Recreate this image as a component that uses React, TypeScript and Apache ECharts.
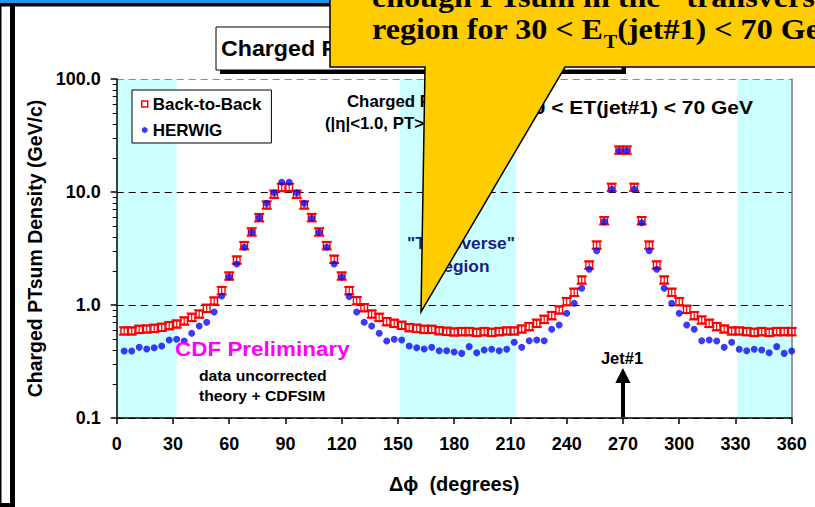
import React, { useEffect, useRef } from "react";
import * as echarts from "echarts";

// Δφ bin centres (degrees) relative to the leading jet direction
const DPHI = [
  4, 8, 12, 16, 20, 24, 28, 32, 36, 40, 44, 48, 52, 56, 60, 64, 68, 72, 76, 80,
  84, 88, 92, 96, 100, 104, 108, 112, 116, 120, 124, 128, 132, 136, 140, 144, 148, 152, 156, 160,
  164, 168, 172, 176, 180, 184, 188, 192, 196, 200, 204, 208, 212, 216, 220, 224, 228, 232, 236, 240,
  244, 248, 252, 256, 260, 264, 268, 272, 276, 280, 284, 288, 292, 296, 300, 304, 308, 312, 316, 320,
  324, 328, 332, 336, 340, 344, 348, 352, 356, 360,
];

// Charged PTsum density (GeV/c), back-to-back data
const BACK_TO_BACK = [
  0.589, 0.589, 0.609, 0.613, 0.622, 0.635, 0.656, 0.679, 0.722, 0.778,
  0.832, 0.935, 1.085, 1.339, 1.805, 2.5, 3.35, 4.43, 5.93, 7.67,
  9.55, 10.96, 10.96, 9.55, 7.67, 5.93, 4.43, 3.35, 2.54, 1.805,
  1.339, 1.09, 0.946, 0.832, 0.778, 0.712, 0.689, 0.661, 0.63, 0.622,
  0.609, 0.609, 0.592, 0.585, 0.577, 0.581, 0.581, 0.573, 0.581, 0.573,
  0.581, 0.589, 0.589, 0.613, 0.643, 0.689, 0.747, 0.804, 0.903, 1.07,
  1.296, 1.664, 2.26, 3.39, 5.57, 10.99, 23.5, 23.5, 10.99, 5.57,
  3.39, 2.26, 1.664, 1.296, 1.07, 0.916, 0.804, 0.737, 0.689, 0.643,
  0.613, 0.589, 0.589, 0.581, 0.573, 0.581, 0.573, 0.581, 0.581, 0.581,
];

// Charged PTsum density (GeV/c), HERWIG prediction
const HERWIG = [
  0.392, 0.392, 0.422, 0.408, 0.419, 0.434, 0.49, 0.497, 0.48, 0.562,
  0.652, 0.703, 0.867, 1.2, 1.77, 2.31, 3.24, 4.4, 5.93, 7.94,
  9.86, 12.2, 12.2, 9.86, 7.94, 5.86, 4.4, 3.24, 2.31, 1.77,
  1.19, 0.867, 0.703, 0.652, 0.562, 0.48, 0.497, 0.49, 0.434, 0.419,
  0.408, 0.422, 0.394, 0.394, 0.384, 0.373, 0.428, 0.378, 0.4, 0.406,
  0.394, 0.406, 0.468, 0.422, 0.483, 0.49, 0.483, 0.609, 0.665, 0.845,
  1.035, 1.405, 2.07, 3.02, 5.47, 10.57, 23.2, 23.2, 10.57, 5.34,
  3.02, 2.07, 1.405, 1.035, 0.845, 0.665, 0.609, 0.483, 0.49, 0.48,
  0.422, 0.468, 0.406, 0.394, 0.406, 0.4, 0.378, 0.428, 0.373, 0.392,
];

// relative statistical uncertainty on the back-to-back points
const BTB_REL_ERR = 0.08;

// "transverse" regions shaded in cyan (degrees)
const TRANSVERSE_BANDS = [
  [0, 32],
  [151, 213],
  [331, 360],
];

const SANS = "'Liberation Sans', Arial, 'DejaVu Sans', sans-serif";
const SERIF = "'Liberation Serif', 'Times New Roman', serif";
const RED = "#ff0000";
const BLUE = "#0a0af5";
const CYAN = "#ccffff";

const sansText = (
  text: string,
  x: number,
  y: number,
  size: number,
  opts: { align?: string; fill?: string; scaleX?: number; z?: number } = {}
) => ({
  type: "text",
  x,
  y,
  scaleX: opts.scaleX ?? 1,
  z: opts.z ?? 20,
  style: {
    text,
    fontFamily: SANS,
    fontWeight: "bold",
    fontSize: size,
    fill: opts.fill ?? "#000",
    align: opts.align ?? "left",
    verticalAlign: "middle",
  },
});

export default function App() {
  const ref = useRef<HTMLDivElement>(null);

  useEffect(() => {
    if (!ref.current) return;
    const chart = echarts.init(ref.current, null, { renderer: "svg" });

    const btbData = DPHI.map((x, i) => [x, BACK_TO_BACK[i]]);
    const herwigData = DPHI.map((x, i) => [x, HERWIG[i]]);

    const option: any = {
      animation: false,
      backgroundColor: "#fff",
      grid: { left: 116.7, right: 23.3, top: 79, bottom: 89, containLabel: false },
      legend: {
        left: 132,
        top: 90,
        orient: "vertical",
        padding: [4, 10, 3, 9],
        itemGap: 6,
        itemWidth: 6,
        itemHeight: 6,
        backgroundColor: "#fff",
        borderColor: "#000",
        borderWidth: 1,
        borderRadius: 0,
        selectedMode: false,
        textStyle: { fontFamily: SANS, fontWeight: "bold", fontSize: 17, color: "#000", lineHeight: 20 },
        data: [
          { name: "Back-to-Back", icon: "rect", itemStyle: { color: "#fff", borderColor: RED, borderWidth: 1.5 } },
          { name: "HERWIG", icon: "circle", itemStyle: { color: BLUE } },
        ],
      },
      xAxis: {
        type: "value",
        min: 0,
        max: 360,
        interval: 30,
        axisLine: { show: true, onZero: false, lineStyle: { color: "#000", width: 1.5 } },
        axisTick: { show: true, length: 6, lineStyle: { color: "#000", width: 1.5 } },
        axisLabel: { fontFamily: SANS, fontWeight: "bold", fontSize: 18, color: "#000", margin: 17, lineHeight: 18 },
        splitLine: { show: false },
        name: "Δϕ  (degrees)",
        nameLocation: "middle",
        nameGap: 55,
        nameTextStyle: { fontFamily: SANS, fontWeight: "bold", fontSize: 20, color: "#000", lineHeight: 22 },
      },
      yAxis: [
        {
          type: "log",
          logBase: 10,
          min: 0.1,
          max: 100,
          axisLine: { show: true, onZero: false, lineStyle: { color: "#000", width: 1.5 } },
          axisTick: { show: true, length: 6, lineStyle: { color: "#000", width: 1.5 } },
          minorTick: { show: true, splitNumber: 9, length: 4, lineStyle: { color: "#000", width: 1 } },
          axisLabel: {
            fontFamily: SANS,
            fontWeight: "bold",
            fontSize: 18,
            color: "#000",
            margin: 16,
            formatter: (v: number) => Number(v).toFixed(1),
          },
          splitLine: {
            show: true,
            lineStyle: { color: ["#000", "#000", "#000", "#8a8a8a"], type: [7, 5], width: 1 },
          },
          name: "Charged PTsum Density (GeV/c)",
          nameLocation: "middle",
          nameGap: 70,
          nameTextStyle: { fontFamily: SANS, fontWeight: "bold", fontSize: 19.5, color: "#000", lineHeight: 20 },
        },
        {
          type: "log",
          logBase: 10,
          min: 0.1,
          max: 100,
          position: "right",
          axisLine: { show: true, onZero: false, lineStyle: { color: "#7a7a7a", width: 1.5 } },
          axisTick: { show: false },
          axisLabel: { show: false },
          splitLine: { show: false },
        },
      ],
      series: [
        {
          name: "Back-to-Back",
          type: "custom",
          coordinateSystem: "cartesian2d",
          data: btbData,
          encode: { x: 0, y: 1 },
          z: 3,
          renderItem: (_params: any, api: any) => {
            const x = api.value(0);
            const y = api.value(1);
            const c = api.coord([x, y]);
            const hi = api.coord([x, y * (1 + BTB_REL_ERR)]);
            const lo = api.coord([x, y / (1 + BTB_REL_ERR)]);
            const cap = 5;
            const h = 3.3;
            return {
              type: "group",
              children: [
                { type: "line", shape: { x1: c[0], y1: hi[1], x2: c[0], y2: lo[1] }, style: { stroke: RED, lineWidth: 1.2 } },
                { type: "line", shape: { x1: c[0] - cap, y1: hi[1], x2: c[0] + cap, y2: hi[1] }, style: { stroke: RED, lineWidth: 2 } },
                { type: "line", shape: { x1: c[0] - cap, y1: lo[1], x2: c[0] + cap, y2: lo[1] }, style: { stroke: RED, lineWidth: 2 } },
                {
                  type: "rect",
                  shape: { x: c[0] - h, y: c[1] - h, width: 2 * h, height: 2 * h },
                  style: { fill: "none", stroke: RED, lineWidth: 1.4 },
                },
              ],
            };
          },
        },
        {
          name: "HERWIG",
          type: "scatter",
          data: herwigData,
          symbol: "circle",
          symbolSize: 7,
          itemStyle: { color: BLUE },
          z: 4,
          markArea: {
            silent: true,
            z: -1,
            itemStyle: { color: CYAN },
            data: TRANSVERSE_BANDS.map(([a, b]) => [{ xAxis: a }, { xAxis: b }]),
          },
        },
      ],
      graphic: [
        // slide frame
        { type: "rect", z: 10, shape: { x: 0, y: 0, width: 815, height: 3 }, style: { fill: "#1f95ee" } },
        { type: "rect", z: 10, shape: { x: 0, y: 3, width: 815, height: 3.5 }, style: { fill: "#000" } },
        { type: "rect", z: 10, shape: { x: 0, y: 6, width: 1.5, height: 501 }, style: { fill: "#000" } },
        { type: "rect", z: 10, shape: { x: 10, y: 6, width: 5, height: 499 }, style: { fill: "#000" } },
        { type: "rect", z: 10, shape: { x: 0, y: 503, width: 15, height: 4 }, style: { fill: "#000" } },

        // plot title box
        { type: "rect", z: 30, shape: { x: 220, y: 31, width: 406, height: 43 }, style: { fill: "#000" } },
        { type: "rect", z: 31, shape: { x: 216, y: 27, width: 406, height: 43 }, style: { fill: "#fff", stroke: "#000", lineWidth: 1 } },
        sansText("Charged PTsum Density", 221, 48.5, 21.5, { scaleX: 1.08, z: 32 }),

        // selection text inside the plot
        sansText("Charged PTsum Density", 347, 101, 16, { scaleX: 1.05 }),
        sansText("(|η|<1.0, PT>0.5 GeV)", 325, 123, 16, { scaleX: 1.05 }),
        sansText("30 < ET(jet#1) < 70 GeV", 753, 108, 17.5, { align: "right", scaleX: 1.2 }),

        // region labels and annotations
        sansText('"Transverse"', 461, 244, 16.5, { align: "center", fill: "#1b1b80", scaleX: 1.05 }),
        sansText("region", 463, 266.5, 16.5, { align: "center", fill: "#1b1b80", scaleX: 1.05 }),
        sansText("CDF Preliminary", 175, 349, 21, { fill: "#ff00ff", scaleX: 1.07 }),
        sansText("data uncorrected", 199, 376, 15, { scaleX: 1.05 }),
        sansText("theory + CDFSIM", 199, 396, 15, { scaleX: 1.05 }),
        sansText("Jet#1", 622, 358, 16, { align: "center", scaleX: 1.03 }),
        { type: "polygon", z: 20, shape: { points: [[622.9, 368], [615.3, 383], [630.5, 383]] }, style: { fill: "#000" } },
        { type: "rect", z: 20, shape: { x: 621, y: 382, width: 4, height: 35 }, style: { fill: "#000" } },

        // callout
        {
          type: "polygon",
          z: 60,
          shape: {
            points: [
              [330, -10],
              [830, -10],
              [830, 67],
              [565, 67],
              [421, 312],
              [425, 67],
              [330, 67],
            ],
          },
          style: { fill: "#ffcc00", stroke: "#000", lineWidth: 1.5 },
        },
        {
          type: "text",
          z: 61,
          x: 372,
          y: -3,
          scaleX: 1.07,
          style: {
            text: 'enough PTsum in the "transverse"',
            fontFamily: SERIF,
            fontWeight: "bold",
            fontSize: 30,
            fill: "#000",
            align: "left",
            verticalAlign: "middle",
          },
        },
        {
          type: "text",
          z: 61,
          x: 372,
          y: 29,
          scaleX: 1.07,
          style: {
            text: "{a|region for 30 < E}{s|T}{a|(jet#1) < 70 GeV}",
            align: "left",
            verticalAlign: "middle",
            rich: {
              a: { fontFamily: SERIF, fontWeight: "bold", fontSize: 30, fill: "#000", lineHeight: 43, verticalAlign: "middle" },
              s: { fontFamily: SERIF, fontWeight: "bold", fontSize: 19, fill: "#000", lineHeight: 19, verticalAlign: "bottom" },
            },
          },
        },
      ],
    };

    chart.setOption(option);
    return () => chart.dispose();
  }, []);

  return <div ref={ref} style={{ position: "fixed", left: 0, top: 0, width: 815, height: 507 }} />;
}
